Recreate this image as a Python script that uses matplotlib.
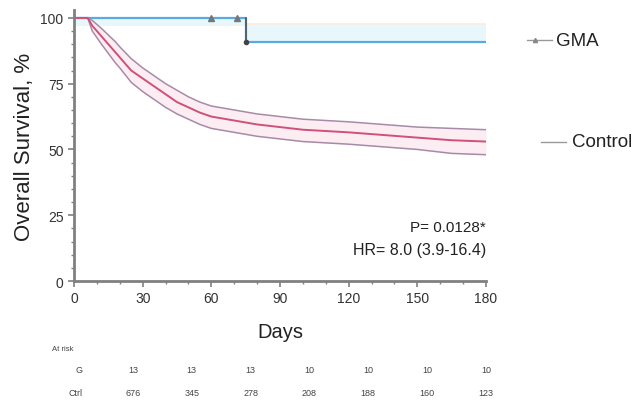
import numpy as np
import matplotlib
matplotlib.use('Agg')
import matplotlib.pyplot as plt
from matplotlib.ticker import MultipleLocator

plt.rcParams['font.family'] = ['Liberation Sans', 'DejaVu Sans']

# Curva control (Kaplan-Meier aproximada) con su IC
days_ctrl = [0, 6, 8, 10, 12, 15, 18, 20, 25, 30, 35, 40, 45, 50, 55, 60, 70, 80, 90, 100, 110, 120, 135, 150, 165, 180]
surv_ctrl = [100, 100, 97, 95, 93, 90, 87, 85, 80, 77, 74, 71, 68, 66, 64, 62.5, 61, 59.5, 58.5, 57.5, 57, 56.5, 55.5, 54.5, 53.5, 53]
upper_ctrl = [100, 100, 99, 97.5, 96, 93.5, 91, 89, 84.5, 81, 78, 75, 72.5, 70, 68, 66.5, 65, 63.5, 62.5, 61.5, 61, 60.5, 59.5, 58.5, 58, 57.5]
lower_ctrl = [100, 100, 95, 92.5, 90, 86.5, 83, 81, 75.5, 72, 69, 66, 63.5, 61.5, 59.5, 58, 56.5, 55, 54, 53, 52.5, 52, 51, 50, 48.5, 48]

# Curva GMA
days_gma = [0, 75, 180]
surv_gma = [100, 91, 91]
upper_gma = [100, 97.5, 97.5]
lower_gma = [97, 91, 91]
censor_gma_days = [60, 71]
censor_gma_surv = [100, 100]

# Tabla de pacientes en riesgo
risk_labels = ['G', 'Ctrl']
risk_gma = ['13', '13', '13', '10', '10', '10', '10']
risk_ctrl = ['676', '345', '278', '208', '188', '160', '123']

fig = plt.figure(figsize=(6.34, 4.06), dpi=100)
ax = fig.add_axes([74 / 634, 1 - 282 / 406, 412 / 634, 271 / 406])

# GMA
ax.fill_between(days_gma, lower_gma, upper_gma, step='post', color='#e8f7fc', lw=0)
ax.step(days_gma, upper_gma, where='post', color='#fcebdd', lw=1.2)
ax.step(days_gma, surv_gma, where='post', color='#5aaae2', lw=1.6)
ax.plot([75, 75], [100, 91], color='#555555', lw=1.2)
ax.plot([75], [91], 'o', color='#444444', ms=3)
ax.plot(censor_gma_days, censor_gma_surv, '^', color='#777777', ms=4, ls='none')

# Control
ax.fill_between(days_ctrl, lower_ctrl, upper_ctrl, color='#fcedf3', lw=0)
ax.plot(days_ctrl, upper_ctrl, color='#a88aa8', lw=1.1)
ax.plot(days_ctrl, lower_ctrl, color='#a88aa8', lw=1.1)
ax.plot(days_ctrl, surv_ctrl, color='#d0507a', lw=1.4)

ax.set_xlim(0, 180)
ax.set_ylim(0, 103)
ax.set_xticks(np.arange(0, 181, 30))
ax.set_yticks([0, 25, 50, 75, 100])
ax.xaxis.set_minor_locator(MultipleLocator(10))
ax.yaxis.set_minor_locator(MultipleLocator(5))
for s in ['top', 'right']:
    ax.spines[s].set_visible(False)
for s in ['left', 'bottom']:
    ax.spines[s].set_color('#808080')
    ax.spines[s].set_linewidth(2)
ax.tick_params(which='major', length=4, width=1.2, color='#808080', labelsize=10, labelcolor='#333333')
ax.tick_params(which='minor', length=2.5, width=1, color='#808080')

ax.set_ylabel('Overall Survival, %', fontsize=16, color='#222222', labelpad=4)
ax.set_xlabel('Days', fontsize=14.5, color='#222222', labelpad=12)

ax.text(180, 20.5, 'P= 0.0128*', ha='right', va='center', fontsize=11, color='#222222')
ax.text(180, 12, 'HR= 8.0 (3.9-16.4)', ha='right', va='center', fontsize=11.5, color='#222222')

# Leyenda fuera de los ejes
ax.plot([198, 209], [91.5, 91.5], color='#999999', lw=1, clip_on=False)
ax.plot([201.5], [91.5], '^', color='#888888', ms=3, clip_on=False)
ax.text(210.5, 91.5, 'GMA', va='center', fontsize=13.5, color='#222222', clip_on=False)
ax.plot([204, 215], [53, 53], color='#999999', lw=1, clip_on=False)
ax.text(217.5, 53, 'Control', va='center', fontsize=13.5, color='#222222', clip_on=False)

# Tabla en riesgo
trans = ax.get_xaxis_transform()
cols = np.linspace(0, 180, 8)
ax.text(-5, -0.248, 'At risk', transform=trans, fontsize=5.5, color='#444444', ha='center', va='center')
rows = [risk_gma, risk_ctrl]
for r, (lab, vals) in enumerate(zip(risk_labels, rows)):
    yy = -0.328 - r * 0.083
    ax.text(cols[0] + 3.5, yy, lab, transform=trans, fontsize=6.5, ha='right', va='center', color='#444444')
    for c, v in zip(cols[1:], vals):
        ax.text(c, yy, v, transform=trans, fontsize=6.5, ha='center', va='center', color='#444444')

fig.savefig('out.png', dpi=100)
